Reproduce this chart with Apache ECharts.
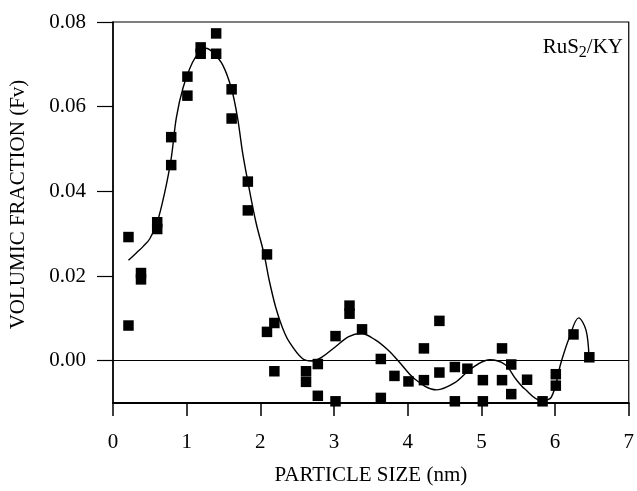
<!DOCTYPE html>
<html>
<head>
<meta charset="utf-8">
<script src="https://cdn.jsdelivr.net/npm/echarts@6/dist/echarts.min.js"></script>
<style>
  html, body { margin: 0; padding: 0; background: #fff; }
  #chart { width: 637px; height: 491px; }
</style>
</head>
<body>
<div id="chart"></div>
<script>
// Measured particle-size distribution (x in nm, y = volumic fraction)
const pointX = [0.21, 0.21, 0.38, 0.38, 0.60, 0.60, 0.79, 0.79, 1.01, 1.01,
                1.19, 1.19, 1.40, 1.40, 1.61, 1.61, 1.83, 1.83, 2.09, 2.09,
                2.19, 2.19, 2.62, 2.62, 2.78, 2.78, 3.02, 3.02, 3.21, 3.21,
                3.38, 3.635, 3.635, 3.82, 4.01, 4.22, 4.22, 4.43, 4.43, 4.64,
                4.64, 4.81, 5.02, 5.02, 5.28, 5.28, 5.405, 5.405, 5.62, 5.83,
                6.01, 6.01, 6.25, 6.465];
const pointY = [0.0292, 0.0083, 0.0207, 0.0192, 0.0327, 0.0311, 0.0528, 0.0462, 0.0671, 0.0626,
                0.0740, 0.0725, 0.0773, 0.0725, 0.0641, 0.0572, 0.0423, 0.0355, 0.0251, 0.0068,
                0.0089, -0.0025, -0.0025, -0.0050, -0.0008, -0.0083, 0.0058, -0.0096, 0.0130, 0.0111,
                0.0074, 0.0004, -0.0088, -0.0036, -0.0049, 0.0029, -0.0046, 0.0094, -0.0028, -0.0015,
                -0.0096, -0.0019, -0.0046, -0.0096, 0.0029, -0.0046, -0.0009, -0.0079, -0.0045, -0.0096,
                -0.0032, -0.0059, 0.0062, 0.0008];

// Fitted distribution curve
const curveX = [0.21, 0.32, 0.41, 0.50, 0.60, 0.70, 0.79, 0.86, 0.95, 1.08,
                1.19, 1.26, 1.35, 1.49, 1.61, 1.69, 1.76, 1.83, 1.94, 2.05,
                2.12, 2.21, 2.30, 2.39, 2.57, 2.70, 2.84, 3.02, 3.20, 3.37,
                3.56, 3.74, 3.87, 4.10, 4.39, 4.64, 4.86, 5.11, 5.32, 5.47,
                5.59, 5.81, 5.95, 6.08, 6.19, 6.32, 6.42, 6.46];
const curveY = [0.0237, 0.0255, 0.0270, 0.0288, 0.0327, 0.0396, 0.0478, 0.0574, 0.0644, 0.0705,
                0.0732, 0.0738, 0.0729, 0.0698, 0.0641, 0.0574, 0.0490, 0.0423, 0.0327, 0.0252,
                0.0190, 0.0125, 0.0078, 0.0045, 0.0005, -0.0001, 0.0009, 0.0033, 0.0057, 0.0064,
                0.0049, 0.0024, 0.0000, -0.0044, -0.0069, -0.0052, -0.0019, 0.0002, -0.0009, -0.0044,
                -0.0067, -0.0094, -0.0086, -0.0005, 0.0053, 0.0101, 0.0072, 0.0008];

const yTicks = [0, 0.02, 0.04, 0.06, 0.08];
const xTicks = [0, 1, 2, 3, 4, 5, 6, 7];

const serif = "'Liberation Serif', 'Times New Roman', serif";
const chart = echarts.init(document.getElementById('chart'), null, { renderer: 'canvas' });

chart.setOption({
  animation: false,
  backgroundColor: '#fff',
  grid: {
    left: 113, right: 5, top: 22, bottom: 80,
    show: true, borderColor: '#000', borderWidth: 1.2, backgroundColor: 'transparent'
  },
  xAxis: {
    type: 'value', min: 0, max: 7, interval: 1,
    name: 'PARTICLE SIZE (nm)', nameLocation: 'middle', nameGap: 62,
    nameTextStyle: { fontFamily: serif, fontSize: 21, color: '#000' },
    axisLine: { show: true, onZero: false, lineStyle: { color: '#000', width: 2 } },
    axisTick: { show: true, inside: false, length: 13, lineStyle: { color: '#000', width: 1.5 },
                customValues: xTicks },
    axisLabel: { fontFamily: serif, fontSize: 21, color: '#000', margin: 29, customValues: xTicks },
    splitLine: { show: false }
  },
  yAxis: {
    type: 'value', min: -0.01, max: 0.08,
    name: 'VOLUMIC FRACTION (Fv)', nameLocation: 'middle', nameGap: 84, nameRotate: 90,
    nameTextStyle: { fontFamily: serif, fontSize: 21, color: '#000', padding: [0, 0, 0, 16] },
    axisLine: { show: true, onZero: false, lineStyle: { color: '#000', width: 1.5 } },
    axisTick: { show: true, inside: false, length: 16, lineStyle: { color: '#000', width: 1.2 },
                customValues: yTicks },
    axisLabel: { fontFamily: serif, fontSize: 21, color: '#000', margin: 27, customValues: yTicks,
                 formatter: v => v.toFixed(2) },
    splitLine: { show: false }
  },
  graphic: [{
    type: 'text', right: 14, top: 37,
    style: {
      text: 'RuS{sub|2}/KY',
      font: '21px ' + serif, fill: '#000',
      rich: { sub: { fontFamily: serif, fontSize: 16, padding: [10, 0, 0, 0], verticalAlign: 'bottom' } }
    }
  }],
  series: [
    {
      type: 'line', data: curveX.map((x, i) => [x, curveY[i]]),
      smooth: 0.35, showSymbol: false, symbol: 'none',
      lineStyle: { color: '#000', width: 1.4 },
      markLine: {
        silent: true, symbol: 'none', label: { show: false },
        lineStyle: { color: '#000', width: 1, type: 'solid' },
        data: [{ yAxis: 0 }]
      },
      z: 3
    },
    {
      type: 'scatter', data: pointX.map((x, i) => [x, pointY[i]]),
      symbol: 'rect', symbolSize: 10.5,
      itemStyle: { color: '#000', opacity: 1 },
      z: 4
    }
  ]
});
</script>
</body>
</html>
